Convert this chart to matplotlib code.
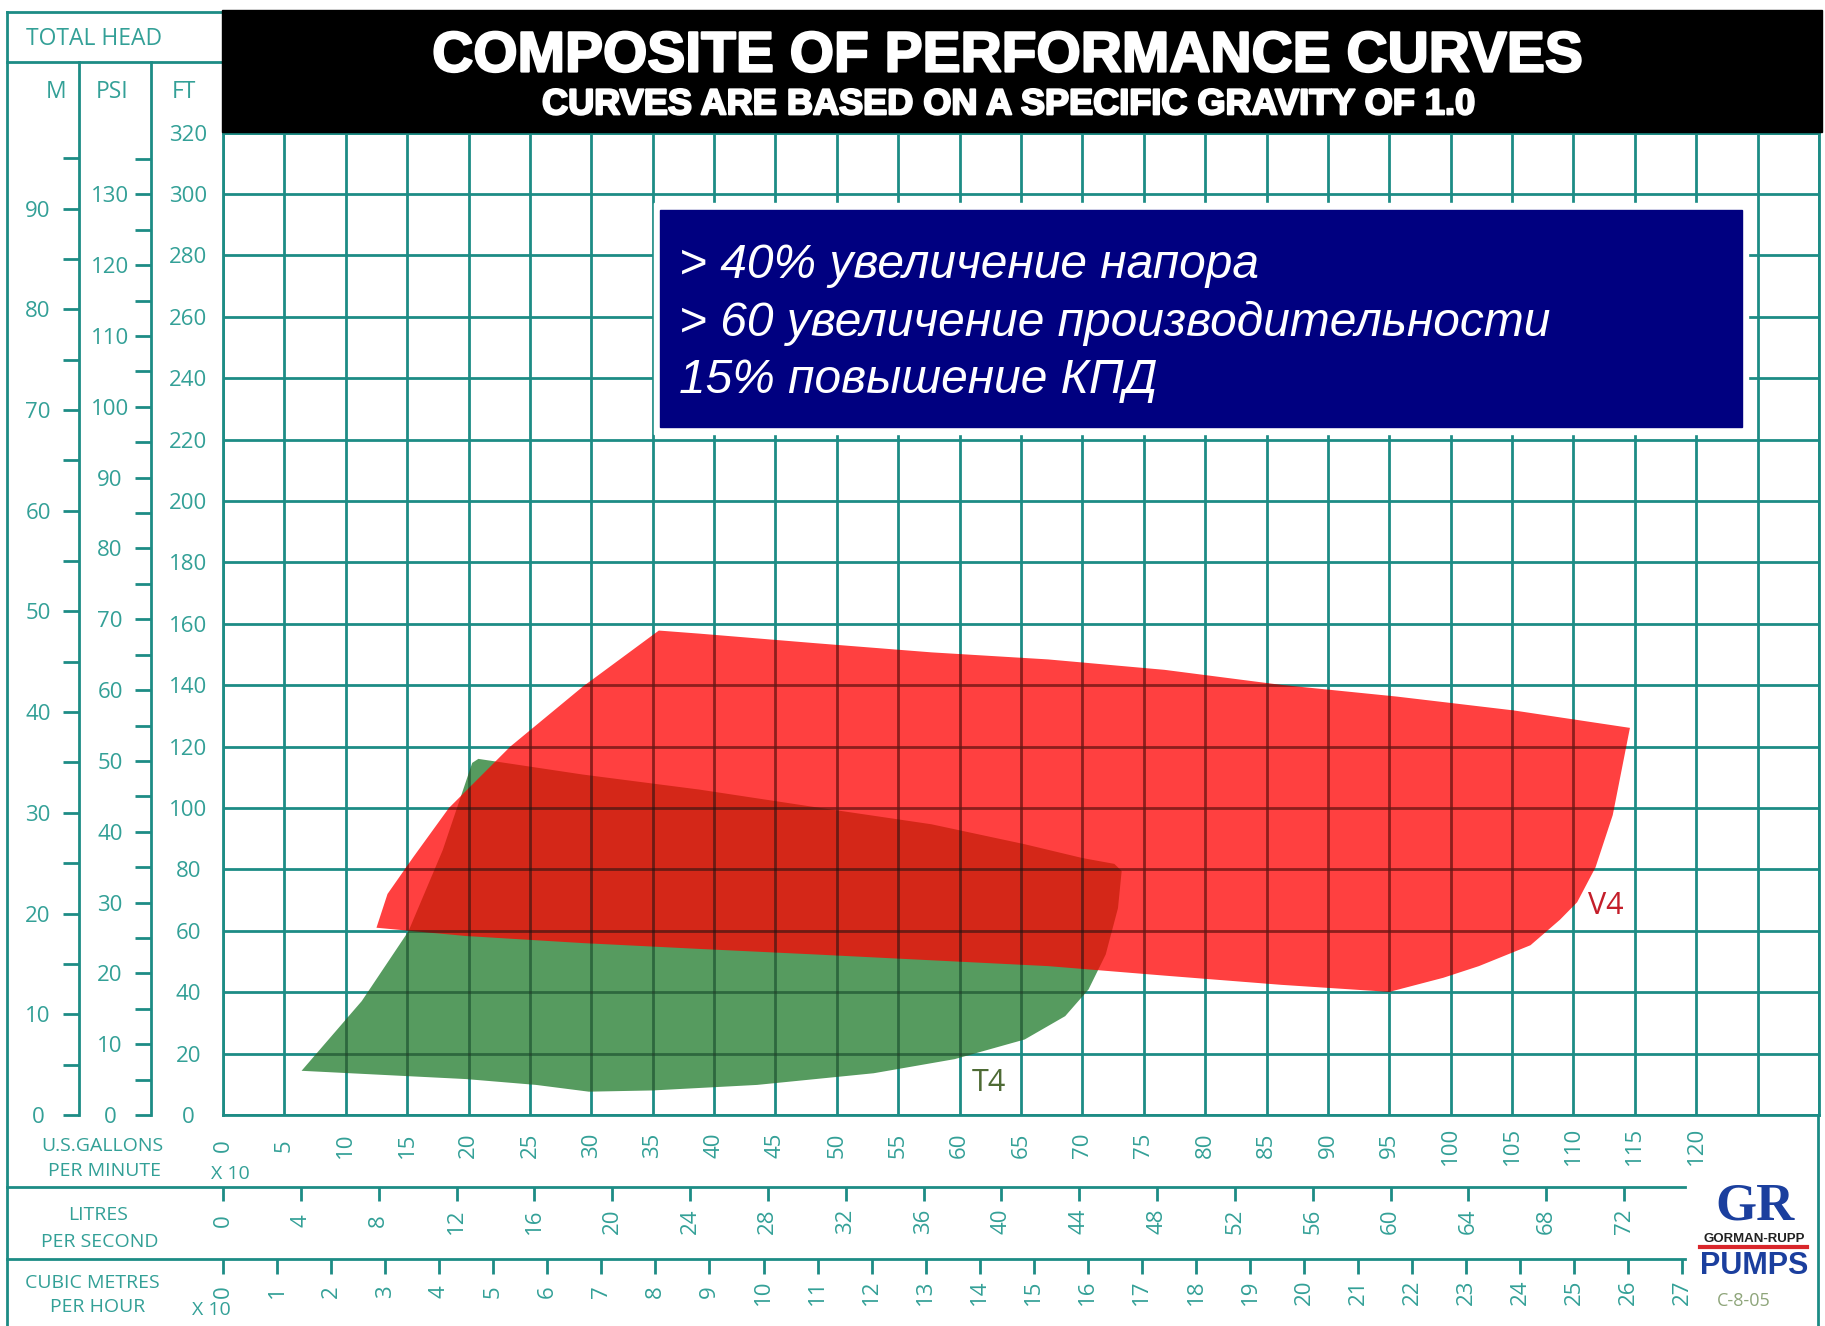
import numpy as np
import matplotlib
matplotlib.use("Agg")
import matplotlib.pyplot as plt
import matplotlib.patheffects as pe
from matplotlib.lines import Line2D
from matplotlib.patches import Rectangle
from matplotlib.ticker import FixedLocator

plt.rcParams['font.family'] = ['Open Sans', 'DejaVu Sans']

# flow axis: US gallons per minute x10, head axis: feet
grid_x = list(range(0, 131, 5))
gpm_ticks = list(range(0, 121, 5))
ft_ticks = list(range(0, 321, 20))
m_major = list(range(0, 91, 10))
m_minor = list(range(5, 96, 10))
psi_major = list(range(0, 131, 10))
psi_minor = list(range(5, 141, 10))
lps_ticks = list(range(0, 73, 4))
m3h_ticks = list(range(0, 28))

# V4 operating envelope (outline)
v4_x = [12.5, 13.4, 15.5, 18.4, 23.4, 29.3, 35.5, 38.8, 48.2, 57.7, 67.2, 76.7, 86.2, 95.6,
        105.1, 114.6, 113.2, 111.8, 110.3, 108.9, 106.5, 102.3, 99.4, 95.0,
        86.2, 76.7, 67.2, 57.7, 48.2, 38.8, 29.3, 19.8]
v4_y = [61.0, 72.0, 84.0, 100.0, 120.0, 139.5, 157.8, 156.8, 153.7, 150.7, 148.4, 145.0, 140.1, 136.3,
        131.8, 126.1, 97.7, 80.7, 69.3, 63.6, 55.3, 48.5, 44.7, 40.1,
        42.4, 45.4, 48.5, 50.4, 52.3, 54.1, 56.0, 58.3]

# T4 operating envelope
t4_x = [6.4, 11.3, 15.1, 17.9, 20.3, 20.8, 29.3, 38.8, 48.2, 57.7, 65.3, 70.0, 72.6, 73.2,
        72.9, 71.9, 70.5, 68.6, 65.3, 59.6, 53.0, 43.5, 35.0, 29.8, 25.5, 19.8]
t4_y = [14.4, 37.1, 59.8, 86.3, 114.7, 116.0, 110.9, 106.0, 100.3, 94.7, 88.2, 83.7, 81.8, 79.5,
        67.4, 52.3, 40.9, 32.2, 24.6, 18.2, 13.6, 9.8, 8.0, 7.6, 9.8, 11.7]

notes = ["> 40% увеличение напора",
         "> 60 увеличение производительности",
         "15% повышение КПД"]

W, H = 1825, 1326
GRID = '#1d8c85'
TXT = '#33a097'
GREEN = '#3e8d49'
NAVY = '#000080'

fig = plt.figure(figsize=(W / 100, H / 100), dpi=100)
fig.patch.set_facecolor('white')


def ftext(x, y, s, **kw):
    kw.setdefault('ha', 'center')
    kw.setdefault('va', 'center')
    return fig.text(x / W, 1 - y / H, s, **kw)


def fline(x0, y0, x1, y1, **kw):
    kw.setdefault('color', GRID)
    kw.setdefault('lw', 2)
    fig.add_artist(Line2D([x0 / W, x1 / W], [1 - y0 / H, 1 - y1 / H],
                          transform=fig.transFigure, **kw))


# main plotting area
x_left, x_right, y_top, y_bot = 223, 1819, 132.6, 1115
ax = fig.add_axes([x_left / W, 1 - y_bot / H, (x_right - x_left) / W, (y_bot - y_top) / H])
ax.set_xlim(0, 130)
ax.set_ylim(0, 320)
ax.set_xticks(grid_x)
ax.set_xticklabels([str(v) if v in gpm_ticks else '' for v in grid_x])
ax.set_yticks(ft_ticks)
ax.grid(True, color=GRID, lw=2)
ax.set_axisbelow(True)
ax.tick_params(length=0, labelsize=16, labelcolor=TXT)
ax.tick_params(axis='x', labelrotation=90, pad=22)
ax.tick_params(axis='y', pad=25)
for lab in ax.get_xticklabels():
    lab.set_va('center')
for lab in ax.get_yticklabels():
    lab.set_ha('center')
ax.xaxis.set_minor_locator(FixedLocator([0]))
ax.yaxis.set_minor_locator(FixedLocator([0]))
ax.tick_params(which='minor', length=12, width=2, color=GRID, direction='out')
for s in ax.spines.values():
    s.set_color(GRID)
    s.set_linewidth(2)

green = ax.fill(t4_x, t4_y, color=GREEN, alpha=0.88, lw=0, zorder=2)[0]
red = ax.fill(v4_x, v4_y, color=(1.0, 0.0, 0.0), alpha=0.75, lw=0, zorder=3)[0]
for poly in (green, red):
    vl = ax.vlines(grid_x, 0, 320, colors='#151515', alpha=0.3, lw=2, zorder=4)
    hl = ax.hlines(ft_ticks, 0, 130, colors='#151515', alpha=0.3, lw=2, zorder=4)
    vl.set_clip_path(poly)
    hl.set_clip_path(poly)

ax.text(62.4, 10.4, 'T4', color='#4e6b35', fontsize=22, ha='center', va='center', zorder=6)
ax.text(112.6, 68.2, 'V4', color='#c41e2a', fontsize=22, ha='center', va='center', zorder=6)

# metres and psi scales, drawn from the header line down to zero head
ft_px = (y_bot - y_top) / 320
head_top = (y_bot - 62) / ft_px
for xpos, conv, major, minor in ((79, 0.3048, m_major, m_minor),
                                  (151, 1 / 2.3067, psi_major, psi_minor)):
    a = fig.add_axes([xpos / W, 1 - y_bot / H, 0.0001, (y_bot - 62) / H])
    a.patch.set_visible(False)
    a.set_ylim(0, head_top * conv)
    a.set_xticks([])
    a.set_yticks(major)
    a.yaxis.set_minor_locator(FixedLocator(minor))
    for k in ('top', 'right', 'bottom'):
        a.spines[k].set_visible(False)
    a.spines['left'].set_color(GRID)
    a.spines['left'].set_linewidth(2)
    a.tick_params(which='both', direction='out', length=11.5, width=2, color=GRID)
    a.tick_params(which='major', pad=18, labelsize=16, labelcolor=TXT)
    for lab in a.get_yticklabels():
        lab.set_ha('center')

# litres per second and cubic metres per hour scales
for ypos, conv, ticks, tlen, pad in ((1187, 0.630902, lps_ticks, 10, 14.5),
                                     (1259, 0.2271247, m3h_ticks, 10.8, 13)):
    sec = ax.secondary_xaxis((y_bot - ypos) / (y_bot - y_top),
                             functions=(lambda g, c=conv: g * c, lambda v, c=conv: v / c))
    sec.set_xticks(ticks)
    sec.tick_params(direction='out', length=tlen, width=2, color=GRID, labelsize=16,
                    labelcolor=TXT, labelrotation=90, pad=pad)
    for s in sec.spines.values():
        s.set_visible(False)
    for lab in sec.get_xticklabels():
        lab.set_va('center')

# frame of the sheet
fline(7, 12, 223, 12)
fline(7, 62, 223, 62)
fline(7, 12, 7, 1326)
fline(7, 1187, 1685, 1187)
fline(7, 1259, 1685, 1259)
fline(1818, 1115, 1818, 1326)

ftext(94, 39, 'TOTAL HEAD', fontsize=16.5, color=TXT)
ftext(56, 92, 'M', fontsize=16.5, color=TXT)
ftext(112, 92, 'PSI', fontsize=16.5, color=TXT)
ftext(184, 92, 'FT', fontsize=16.5, color=TXT)
ftext(102, 1146, 'U.S.GALLONS', fontsize=14, color=TXT)
ftext(104, 1171, 'PER MINUTE', fontsize=14, color=TXT)
ftext(230, 1174, 'X 10', fontsize=14, color=TXT)
ftext(98, 1215, 'LITRES', fontsize=14, color=TXT)
ftext(100, 1242, 'PER SECOND', fontsize=14, color=TXT)
ftext(92, 1283, 'CUBIC METRES', fontsize=14, color=TXT)
ftext(98, 1307, 'PER HOUR', fontsize=14, color=TXT)
ftext(211, 1310, 'X 10', fontsize=14, color=TXT)

# title banner
fig.add_artist(Rectangle((222 / W, 1 - 132 / H), (1822 - 222) / W, (132 - 10) / H,
                         transform=fig.transFigure, color='black', zorder=3))
glow = [pe.withStroke(linewidth=1.6, foreground='white')]
ftext(1008, 56.5, 'COMPOSITE OF PERFORMANCE CURVES', fontsize=41, color='white',
      fontweight='bold', family='Liberation Sans', zorder=4, path_effects=glow)
ftext(1008, 104.8, 'CURVES ARE BASED ON A SPECIFIC GRAVITY OF 1.0', fontsize=26,
      color='white', fontweight='bold', family='Liberation Sans', zorder=4, path_effects=glow)

# note box
fig.add_artist(Rectangle((654 / W, 1 - 434 / H), (1748 - 654) / W, (434 - 203) / H,
                         transform=fig.transFigure, color='white', zorder=5))
fig.add_artist(Rectangle((660 / W, 1 - 427 / H), (1742 - 660) / W, (427 - 209.5) / H,
                         transform=fig.transFigure, color=NAVY, zorder=5))
for i, line in enumerate(notes):
    ftext(679, 278 + 57.5 * i, line, ha='left', va='baseline', fontsize=34.5, color='white',
          style='italic', family='Liberation Sans', zorder=6)

# maker logo
ftext(1755, 1219, 'GR', fontsize=38, color='#1b3f9e', fontweight='bold',
      family='Liberation Serif', va='baseline')
ftext(1754, 1242, 'GORMAN-RUPP', fontsize=9.5, color='#222222', fontweight='bold',
      family='Liberation Sans', va='baseline')
fline(1700, 1247, 1807, 1247, color='#d9262b', lw=3)
ftext(1754, 1274, 'PUMPS', fontsize=22, color='#1b3f9e', fontweight='bold',
      family='Liberation Sans', va='baseline')
ftext(1744, 1301, 'C-8-05', fontsize=13, color='#8ea57a')

fig.savefig('out.png', dpi=100)
